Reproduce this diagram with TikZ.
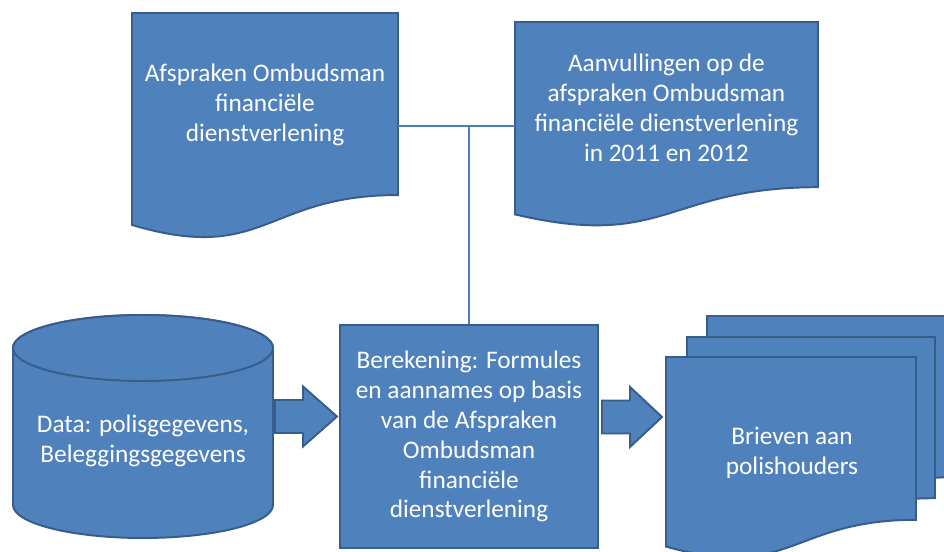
\documentclass[tikz,border=0pt]{standalone}
\usepackage{fontspec}
\setmainfont{Carlito}
\definecolor{officeblue}{HTML}{4F81BD}
\definecolor{officeedge}{HTML}{385D8A}
\definecolor{linkblue}{HTML}{4A7EBB}
\tikzset{
    doc/.style={fill=officeblue, draw=officeedge, line width=1.4pt},
    label/.style={text=white, align=center, font=\fontsize{18}{21.3}\selectfont},
    link/.style={draw=linkblue, line width=1.4pt}
}

\begin{document}
\begin{tikzpicture}
    \useasboundingbox (0,0) rectangle (23.6,13.8);

    % Top documents
    \draw[doc] (3.3,13.475) -- (9.95,13.475) -- (9.95,8.924)
        .. controls (6.625,8.924) and (6.625,7.193) .. (3.3,8.175) -- cycle;
    \node[label] (afspraken) at (6.625,11.175)
        {Afspraken Ombudsman\\financiële\\dienstverlening};

    \draw[doc] (12.875,13.25) -- (20.45,13.25) -- (20.45,9.12)
        .. controls (16.6625,9.12) and (16.6625,7.549) .. (12.875,8.44) -- cycle;
    \node[label] (aanvullingen) at (16.66,11.11)
        {Aanvullingen op de\\afspraken Ombudsman\\financiële dienstverlening\\in 2011 en 2012};

    % Connector between the documents and the calculation
    \coordinate (afspraken-r) at (9.95,10.65);
    \coordinate (aanvullingen-l) at (12.875,10.65);
    \coordinate (join) at (11.725,10.65);

    % Data cylinder
    \draw[doc] (0.325,5.1) -- (0.325,1.175)
        arc[start angle=180, end angle=360, x radius=3.25, y radius=0.825]
        -- (6.825,5.1)
        arc[start angle=0, end angle=180, x radius=3.25, y radius=0.825] -- cycle;
    \draw[doc] (3.575,5.1) ellipse [x radius=3.25, y radius=0.825];
    \node[label] (data) at (3.575,2.775) {Data: polisgegevens,\\Beleggingsgegevens};

    % Calculation
    \node[doc, label, minimum width=6.45cm, minimum height=5.575cm] (berekening) at (11.725,2.8875)
        {Berekening: Formules\\en aannames op basis\\van de Afspraken\\Ombudsman\\financiële\\dienstverlening};

    \draw[link] (afspraken-r) -- (aanvullingen-l);
    \draw[link] (join) -- (berekening.north);

    % Block arrows
    \draw[doc] (6.875,2.975) -- (7.575,2.975) -- (7.575,2.6375) -- (8.425,3.3875)
        -- (7.575,4.1375) -- (7.575,3.8) -- (6.875,3.8) -- cycle;
    \draw[doc] (15.05,2.9625) -- (15.75,2.9625) -- (15.75,2.625) -- (16.55,3.375)
        -- (15.75,4.125) -- (15.75,3.7875) -- (15.05,3.7875) -- cycle;

    % Letters (stack of documents)
    \draw[doc] (17.675,5.9) -- (23.875,5.9) -- (23.875,1.87)
        .. controls (20.775,1.87) and (20.775,0.337) .. (17.675,1.207) -- cycle;
    \draw[doc] (17.175,5.375) -- (23.375,5.375) -- (23.375,1.345)
        .. controls (20.275,1.345) and (20.275,-0.188) .. (17.175,0.682) -- cycle;
    \draw[doc] (16.65,4.875) -- (22.9,4.875) -- (22.9,0.805)
        .. controls (19.775,0.805) and (19.775,-0.743) .. (16.65,0.135) -- cycle;
    \node[label] (brieven) at (19.8,2.475) {Brieven aan\\polishouders};
\end{tikzpicture}
\end{document}
